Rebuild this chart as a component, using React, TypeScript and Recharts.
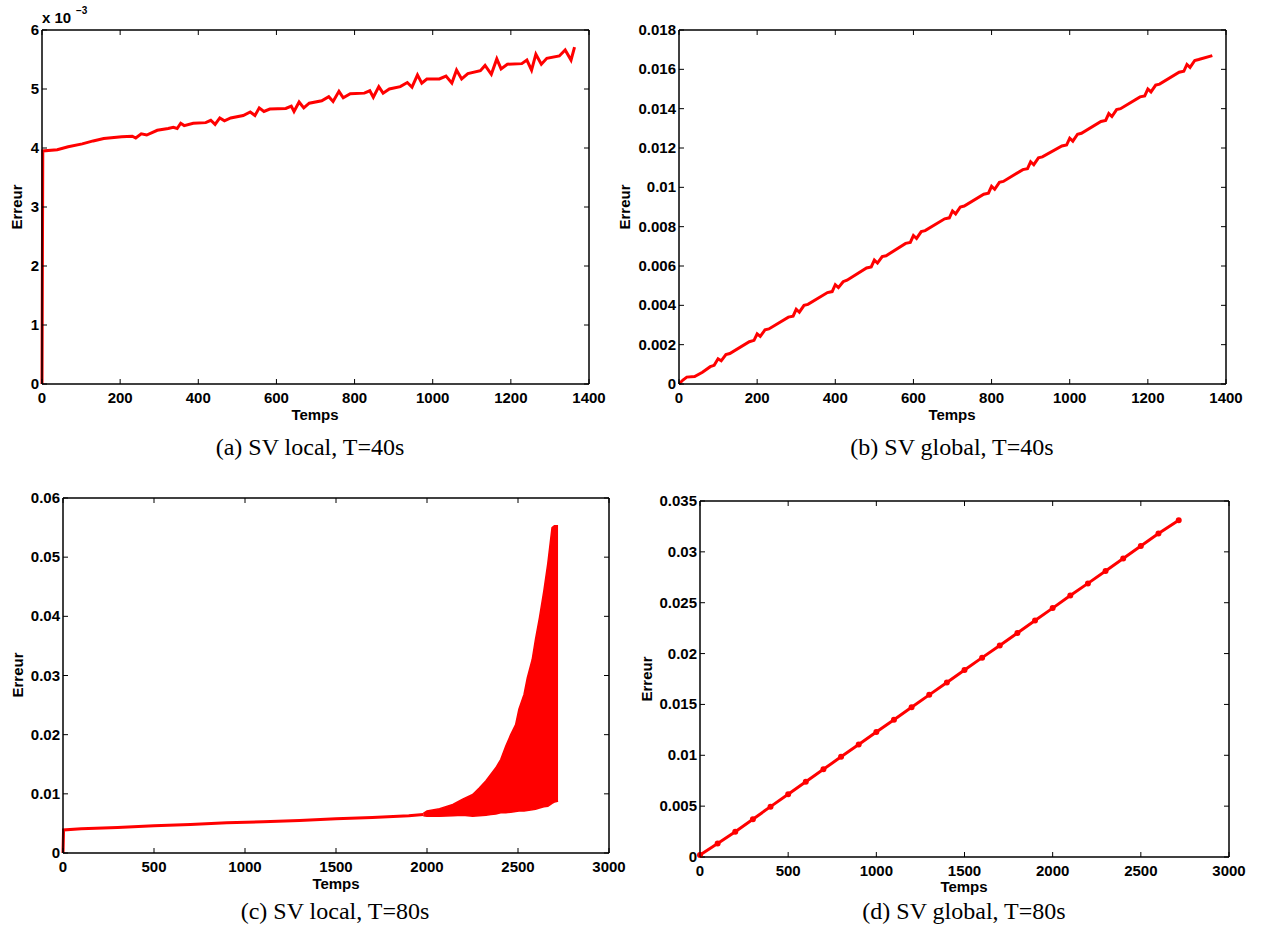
import React from 'react';
import { Area, ComposedChart, Line, ReferenceLine, XAxis, YAxis } from 'recharts';

// (a) SV local, T=40s  (erreur en 1e-3)
const tempsA = [0, 2, 39, 67, 103, 131, 158, 204, 231, 240, 254, 268, 295, 323, 336, 346, 355, 364, 387, 419, 432, 443, 455, 467, 483, 515, 533, 545, 556, 568, 583, 624, 638, 645, 658, 670, 684, 716, 734, 745, 760, 771, 789, 825, 839, 848, 862, 873, 889, 917, 935, 947, 961, 972, 985, 1017, 1034, 1049, 1061, 1074, 1090, 1122, 1134, 1150, 1164, 1175, 1191, 1228, 1241, 1253, 1264, 1278, 1292, 1324, 1339, 1354, 1363];
const erreurA = [0, 3.95, 3.97, 4.02, 4.07, 4.12, 4.16, 4.19, 4.2, 4.17, 4.24, 4.22, 4.3, 4.33, 4.35, 4.33, 4.42, 4.38, 4.42, 4.43, 4.47, 4.4, 4.51, 4.46, 4.51, 4.55, 4.61, 4.55, 4.68, 4.62, 4.66, 4.67, 4.71, 4.62, 4.78, 4.68, 4.76, 4.8, 4.87, 4.79, 4.96, 4.85, 4.92, 4.93, 4.97, 4.86, 5.04, 4.93, 5.0, 5.04, 5.11, 5.03, 5.24, 5.1, 5.17, 5.17, 5.22, 5.1, 5.32, 5.17, 5.26, 5.31, 5.4, 5.25, 5.51, 5.34, 5.42, 5.43, 5.49, 5.32, 5.59, 5.42, 5.52, 5.56, 5.66, 5.49, 5.71];

// (b) SV global, T=40s
const tempsB = [0, 10, 20, 40, 60, 80, 90, 100, 108, 120, 130, 180, 192, 200, 208, 220, 230, 280, 292, 300, 308, 320, 330, 380, 392, 400, 408, 420, 430, 480, 492, 500, 508, 520, 530, 580, 592, 600, 608, 620, 630, 680, 692, 700, 708, 720, 730, 780, 792, 800, 808, 820, 830, 880, 892, 900, 908, 920, 930, 980, 992, 1000, 1008, 1020, 1030, 1080, 1092, 1100, 1108, 1120, 1130, 1180, 1192, 1200, 1208, 1220, 1230, 1280, 1292, 1300, 1308, 1320, 1330, 1365];
const erreurB = [0, 0.0002, 0.00035, 0.00038, 0.0006, 0.00088, 0.00095, 0.00128, 0.00118, 0.0015, 0.00155, 0.00215, 0.00222, 0.00255, 0.00242, 0.00275, 0.0028, 0.0034, 0.00345, 0.0038, 0.00365, 0.004, 0.00405, 0.00465, 0.0047, 0.00505, 0.0049, 0.0052, 0.00528, 0.0059, 0.00595, 0.0063, 0.00615, 0.00648, 0.00652, 0.00715, 0.0072, 0.00755, 0.0074, 0.00775, 0.0078, 0.0084, 0.00845, 0.0088, 0.00865, 0.009, 0.00905, 0.00965, 0.0097, 0.01005, 0.0099, 0.01025, 0.0103, 0.0109, 0.01095, 0.0113, 0.01115, 0.0115, 0.01155, 0.0121, 0.01215, 0.0125, 0.01235, 0.0127, 0.01275, 0.01335, 0.0134, 0.01375, 0.0136, 0.01395, 0.014, 0.0146, 0.01465, 0.015, 0.01485, 0.0152, 0.01525, 0.01585, 0.0159, 0.01625, 0.0161, 0.01645, 0.0165, 0.0167];

// (c) SV local, T=80s : partie lisse puis oscillations (enveloppe min/max)
const tempsC = [0, 3, 100, 300, 500, 700, 900, 1100, 1300, 1500, 1700, 1900, 1980];
const erreurC = [0, 0.0039, 0.0041, 0.0043, 0.0046, 0.0048, 0.0051, 0.0053, 0.0055, 0.0058, 0.006, 0.0063, 0.0065];
const tempsCOsc = [1980, 2000, 2069, 2142, 2196, 2251, 2287, 2324, 2351, 2378, 2405, 2433, 2460, 2487, 2505, 2533, 2551, 2578, 2596, 2618, 2642, 2664, 2687, 2700, 2712, 2720];
const erreurCMin = [0.0063, 0.0062, 0.0062, 0.0063, 0.0064, 0.0062, 0.0063, 0.0064, 0.0065, 0.0066, 0.0068, 0.0068, 0.0069, 0.007, 0.0071, 0.0071, 0.0072, 0.0073, 0.0074, 0.0076, 0.0078, 0.0079, 0.0084, 0.0086, 0.0087, 0.0088];
const erreurCMax = [0.0067, 0.0071, 0.0075, 0.0082, 0.0091, 0.0099, 0.011, 0.0122, 0.0133, 0.0144, 0.0158, 0.0181, 0.02, 0.0217, 0.0243, 0.0268, 0.0296, 0.0327, 0.0361, 0.0398, 0.0443, 0.049, 0.055, 0.0553, 0.0553, 0.0553];

// (d) SV global, T=80s
const tempsD = [0, 100, 200, 300, 400, 500, 600, 700, 800, 900, 1000, 1100, 1200, 1300, 1400, 1500, 1600, 1700, 1800, 1900, 2000, 2100, 2200, 2300, 2400, 2500, 2600, 2715];
const erreurD = [0.0002, 0.00132, 0.00248, 0.00372, 0.00495, 0.00617, 0.0074, 0.00862, 0.00985, 0.01105, 0.01228, 0.0135, 0.01472, 0.01594, 0.01716, 0.01838, 0.0196, 0.0208, 0.02202, 0.02325, 0.02447, 0.0257, 0.0269, 0.02812, 0.02935, 0.03057, 0.0318, 0.0331];

const ticksT40 = [0, 200, 400, 600, 800, 1000, 1200, 1400];
const ticksT80 = [0, 500, 1000, 1500, 2000, 2500, 3000];
const ticksA = [0, 1, 2, 3, 4, 5, 6];
const ticksB = [0, 0.002, 0.004, 0.006, 0.008, 0.01, 0.012, 0.014, 0.016, 0.018];
const ticksC = [0, 0.01, 0.02, 0.03, 0.04, 0.05, 0.06];
const ticksD = [0, 0.005, 0.01, 0.015, 0.02, 0.025, 0.03, 0.035];

const dataA = tempsA.map((t, i) => ({ t, e: erreurA[i] }));
const dataB = tempsB.map((t, i) => ({ t, e: erreurB[i] }));
const dataC = [
  ...tempsC.map((t, i) => ({ t, e: erreurC[i] })),
  ...tempsCOsc.map((t, i) => ({ t, osc: [erreurCMin[i], erreurCMax[i]] })),
];
const dataD = tempsD.map((t, i) => ({ t, e: erreurD[i] }));

const SANS = '"Liberation Sans", Arial, Helvetica, sans-serif';
const SERIF = '"Liberation Serif", "Times New Roman", serif';
const RED = '#ff0000';
const TICK = 5;
const PAD_L = 70;
const PAD_T = 10;
const PAD_R = 40;
const PAD_B = 30;

type Box = { left: number; top: number; width: number; height: number };

const boxA: Box = { left: 42, top: 30, width: 547, height: 354 };
const boxB: Box = { left: 679, top: 30, width: 547, height: 354 };
const boxC: Box = { left: 63, top: 498, width: 546, height: 355 };
const boxD: Box = { left: 700, top: 501, width: 529, height: 356 };

const Panel = ({ box, data, xTicks, yTicks, children }: any) => {
  const right = PAD_L + box.width;
  const xMax = xTicks[xTicks.length - 1];
  const yMax = yTicks[yTicks.length - 1];

  const xTick = ({ x, y, payload }: any) => (
    <g>
      <line x1={x} x2={x} y1={y} y2={y - TICK} stroke="#000" />
      <line x1={x} x2={x} y1={PAD_T} y2={PAD_T + TICK} stroke="#000" />
      <text x={x} y={y + 19} textAnchor="middle" fontFamily={SANS} fontWeight="bold" fontSize={15} fill="#000">
        {payload.value}
      </text>
    </g>
  );
  const yTick = ({ x, y, payload }: any) => (
    <g>
      <line x1={x} x2={x + TICK} y1={y} y2={y} stroke="#000" />
      <line x1={right - TICK} x2={right} y1={y} y2={y} stroke="#000" />
      <text x={x - 3} y={y + 5} textAnchor="end" fontFamily={SANS} fontWeight="bold" fontSize={15} fill="#000">
        {payload.value}
      </text>
    </g>
  );

  return (
    <div style={{ position: 'absolute', left: box.left - PAD_L, top: box.top - PAD_T }}>
      <ComposedChart
        width={box.width + PAD_L + PAD_R}
        height={box.height + PAD_T + PAD_B}
        data={data}
        margin={{ top: PAD_T, right: PAD_R, bottom: 0, left: 0 }}
      >
        <XAxis
          type="number"
          dataKey="t"
          domain={[0, xMax]}
          ticks={xTicks}
          interval={0}
          height={PAD_B}
          tickSize={0}
          tickMargin={0}
          tickLine={false}
          tick={xTick}
          axisLine={{ stroke: '#000', strokeWidth: 1.5 }}
        />
        <YAxis
          type="number"
          domain={[0, yMax]}
          ticks={yTicks}
          interval={0}
          width={PAD_L}
          tickSize={0}
          tickMargin={0}
          tickLine={false}
          tick={yTick}
          axisLine={{ stroke: '#000', strokeWidth: 1.5 }}
        />
        <ReferenceLine y={yMax} stroke="#000" strokeWidth={1.5} />
        <ReferenceLine x={xMax} stroke="#000" strokeWidth={1.5} />
        {children}
      </ComposedChart>
    </div>
  );
};

const axisText = { fontFamily: SANS, fontWeight: 'bold' as const, fontSize: 15, fill: '#000' };
const captionText = { fontFamily: SERIF, fontSize: 24, fill: '#000' };

const Labels = () => (
  <svg width={1281} height={932} style={{ position: 'absolute', left: 0, top: 0, pointerEvents: 'none' }}>
    <text x={42} y={23} {...axisText}>x 10</text>
    <text x={76} y={14} {...axisText} fontSize={10}>−3</text>

    <text x={315} y={420} textAnchor="middle" {...axisText}>Temps</text>
    <text x={952} y={420} textAnchor="middle" {...axisText}>Temps</text>
    <text x={336} y={889} textAnchor="middle" {...axisText}>Temps</text>
    <text x={964} y={892} textAnchor="middle" {...axisText}>Temps</text>

    <text transform="translate(22,207) rotate(-90)" textAnchor="middle" {...axisText}>Erreur</text>
    <text transform="translate(630,207) rotate(-90)" textAnchor="middle" {...axisText}>Erreur</text>
    <text transform="translate(23,675) rotate(-90)" textAnchor="middle" {...axisText}>Erreur</text>
    <text transform="translate(652,679) rotate(-90)" textAnchor="middle" {...axisText}>Erreur</text>

    <text x={310} y={455} textAnchor="middle" {...captionText}>(a) SV local, T=40s</text>
    <text x={952} y={455} textAnchor="middle" {...captionText}>(b) SV global, T=40s</text>
    <text x={335} y={919} textAnchor="middle" {...captionText}>(c) SV local, T=80s</text>
    <text x={964} y={919} textAnchor="middle" {...captionText}>(d) SV global, T=80s</text>
  </svg>
);

export default function App() {
  return (
    <div style={{ position: 'absolute', left: 0, top: 0, width: 1281, height: 932, background: '#fff' }}>
      <Panel box={boxA} data={dataA} xTicks={ticksT40} yTicks={ticksA}>
        <Line type="linear" dataKey="e" stroke={RED} strokeWidth={3} dot={false} isAnimationActive={false} />
      </Panel>
      <Panel box={boxB} data={dataB} xTicks={ticksT40} yTicks={ticksB}>
        <Line type="linear" dataKey="e" stroke={RED} strokeWidth={3} dot={false} isAnimationActive={false} />
      </Panel>
      <Panel box={boxC} data={dataC} xTicks={ticksT80} yTicks={ticksC}>
        <Area type="linear" dataKey="osc" stroke={RED} strokeWidth={1.5} fill={RED} fillOpacity={1} isAnimationActive={false} />
        <Line type="linear" dataKey="e" stroke={RED} strokeWidth={3} dot={false} isAnimationActive={false} />
      </Panel>
      <Panel box={boxD} data={dataD} xTicks={ticksT80} yTicks={ticksD}>
        <Line
          type="linear"
          dataKey="e"
          stroke={RED}
          strokeWidth={3}
          dot={{ r: 1.5, fill: RED, stroke: RED }}
          isAnimationActive={false}
        />
      </Panel>
      <Labels />
    </div>
  );
}
